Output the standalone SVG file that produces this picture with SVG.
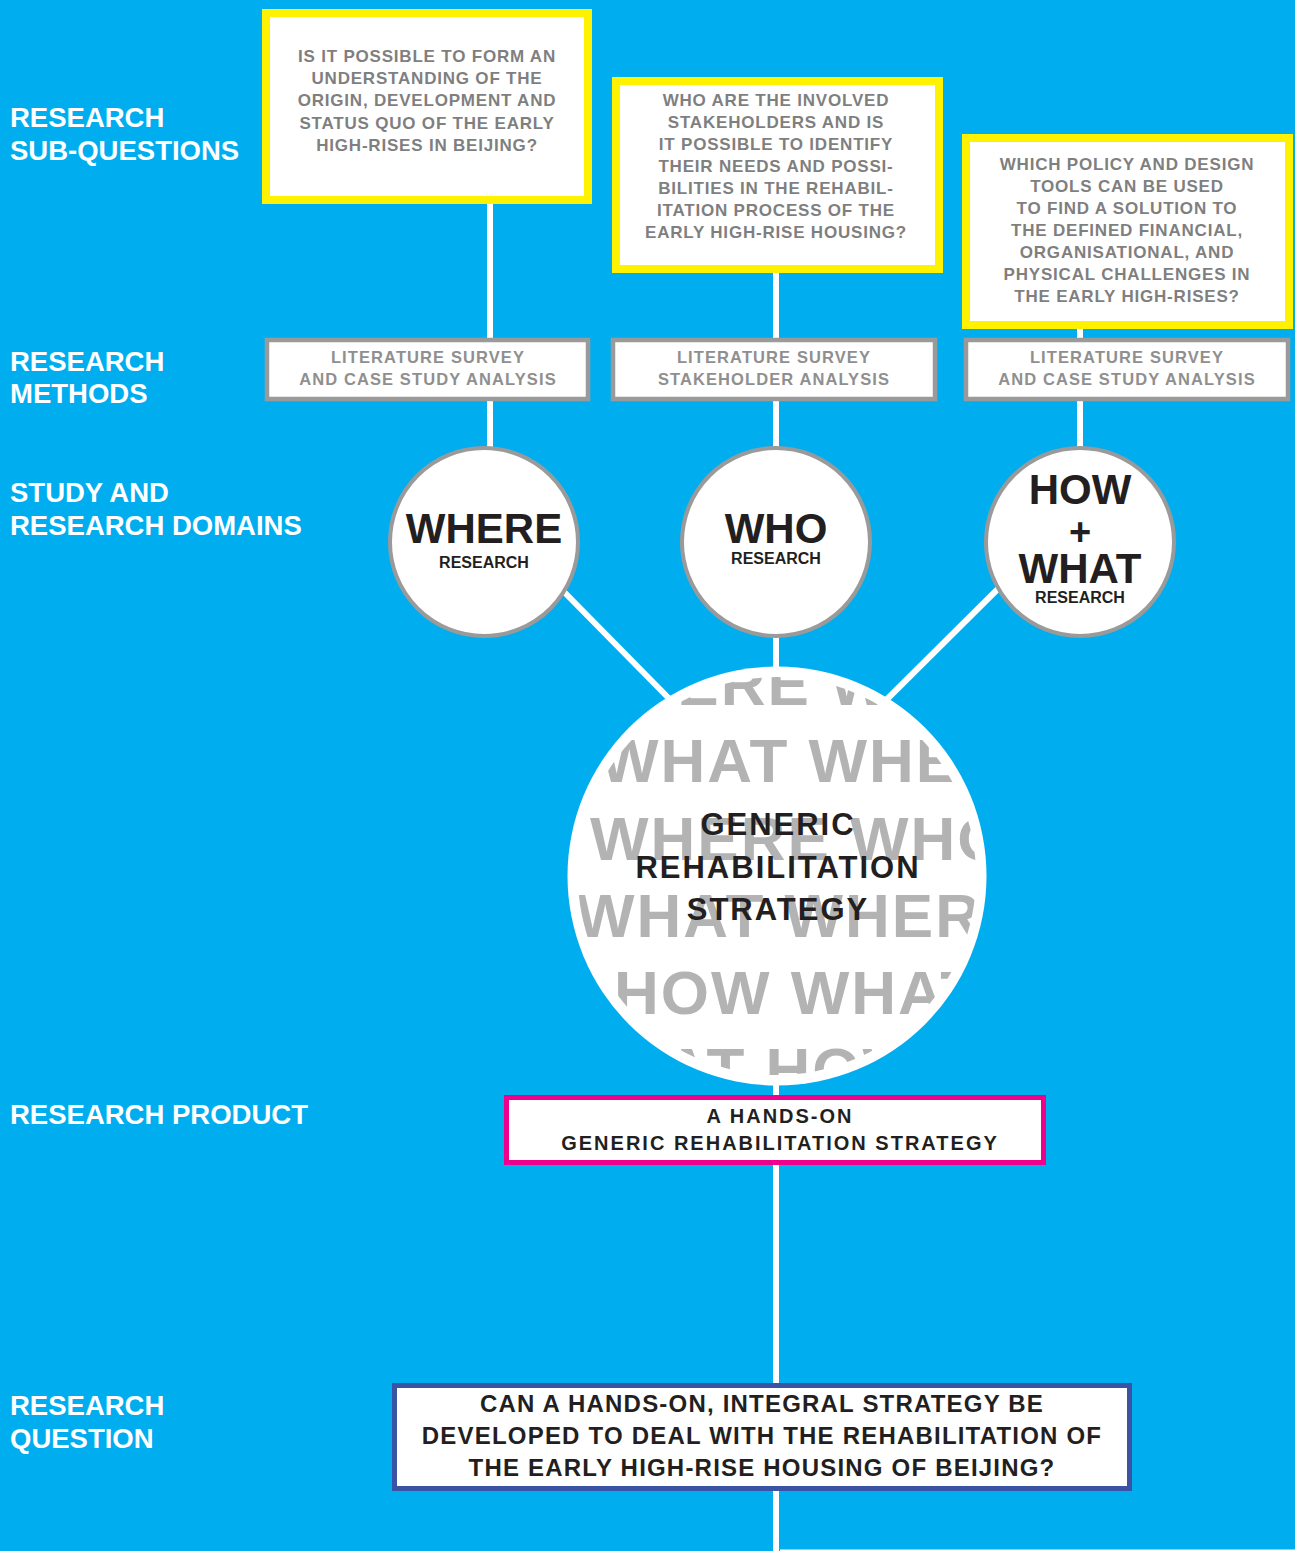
<svg xmlns="http://www.w3.org/2000/svg" width="1295" height="1551" viewBox="0 0 1295 1551">
<style>
text{font-family:"Liberation Sans",Arial,sans-serif;font-weight:bold}
.lbl{fill:#ffffff;font-size:27.5px}
.q{fill:#7f7f7f;font-size:17px;letter-spacing:0.8px;text-anchor:middle}
.m{fill:#8f8f8f;font-size:16.5px;letter-spacing:1.1px;text-anchor:middle}
.big{fill:#231f20;font-size:42px;text-anchor:middle}
.sm{fill:#231f20;font-size:16px;text-anchor:middle}
.bg{fill:#b3b3b3;font-size:62px;letter-spacing:2px}
.ybox{fill:#ffffff;stroke:#fff200;stroke-width:8}
.gbox{fill:#ffffff;stroke:#9a9a9a;stroke-width:4.5}
.circ{fill:#ffffff;stroke:#9a9a9a;stroke-width:4}
.conn{stroke:#ffffff;stroke-width:6;fill:none}
</style>
<defs>
<clipPath id="bigclip"><circle cx="777" cy="876" r="199"/></clipPath>
</defs>
<rect x="0" y="0" width="1295" height="1551" fill="#00aeef"/>

<g id="labels">
<text class="lbl" x="10" y="127">RESEARCH</text>
<text class="lbl" x="10" y="160">SUB-QUESTIONS</text>
<text class="lbl" x="10" y="371">RESEARCH</text>
<text class="lbl" x="10" y="403">METHODS</text>
<text class="lbl" x="10" y="502">STUDY AND</text>
<text class="lbl" x="10" y="535">RESEARCH DOMAINS</text>
<text class="lbl" x="10" y="1124">RESEARCH PRODUCT</text>
<text class="lbl" x="10" y="1415">RESEARCH</text>
<text class="lbl" x="10" y="1448">QUESTION</text>
</g>

<g id="connectors">
<line class="conn" x1="490" y1="200" x2="490" y2="450"/>
<line class="conn" x1="776" y1="270" x2="776" y2="450"/>
<line class="conn" x1="1080" y1="325" x2="1080" y2="450"/>
<line class="conn" x1="776" y1="630" x2="776" y2="1551"/>
<line class="conn" x1="540" y1="567.5" x2="705" y2="735"/>
<line class="conn" x1="1020" y1="567" x2="855" y2="731"/>
<rect x="780" y="1549.5" width="515" height="1.5" fill="#ffffff"/>
</g>

<g id="sq1">
<rect class="ybox" x="266" y="13" width="322" height="187"/>
<text class="q" x="427" y="62">IS IT POSSIBLE TO FORM AN</text>
<text class="q" x="427" y="84.2">UNDERSTANDING OF THE</text>
<text class="q" x="427" y="106.4">ORIGIN, DEVELOPMENT AND</text>
<text class="q" x="427" y="128.6">STATUS QUO OF THE EARLY</text>
<text class="q" x="427" y="150.8">HIGH-RISES IN BEIJING?</text>
</g>

<g id="sq2">
<rect class="ybox" x="616" y="81" width="323" height="188"/>
<text class="q" x="776" y="105.7">WHO ARE THE INVOLVED</text>
<text class="q" x="776" y="127.8">STAKEHOLDERS AND IS</text>
<text class="q" x="776" y="149.9">IT POSSIBLE TO IDENTIFY</text>
<text class="q" x="776" y="172">THEIR NEEDS AND POSSI-</text>
<text class="q" x="776" y="194.1">BILITIES IN THE REHABIL-</text>
<text class="q" x="776" y="216.2">ITATION PROCESS OF THE</text>
<text class="q" x="776" y="238.3">EARLY HIGH-RISE HOUSING?</text>
</g>

<g id="sq3">
<rect class="ybox" x="966" y="138" width="323" height="187"/>
<text class="q" x="1127" y="170">WHICH POLICY AND DESIGN</text>
<text class="q" x="1127" y="192">TOOLS CAN BE USED</text>
<text class="q" x="1127" y="214.1">TO FIND A SOLUTION TO</text>
<text class="q" x="1127" y="236.2">THE DEFINED FINANCIAL,</text>
<text class="q" x="1127" y="258.2">ORGANISATIONAL, AND</text>
<text class="q" x="1127" y="280.3">PHYSICAL CHALLENGES IN</text>
<text class="q" x="1127" y="302.3">THE EARLY HIGH-RISES?</text>
</g>

<g id="m1">
<rect class="gbox" x="267" y="340" width="321" height="59"/>
<text class="m" x="428" y="363.3">LITERATURE SURVEY</text>
<text class="m" x="428" y="385">AND CASE STUDY ANALYSIS</text>
</g>
<g id="m2">
<rect class="gbox" x="613" y="340" width="322" height="59"/>
<text class="m" x="774" y="363.3">LITERATURE SURVEY</text>
<text class="m" x="774" y="385">STAKEHOLDER ANALYSIS</text>
</g>
<g id="m3">
<rect class="gbox" x="966" y="340" width="322" height="59"/>
<text class="m" x="1127" y="363.3">LITERATURE SURVEY</text>
<text class="m" x="1127" y="385">AND CASE STUDY ANALYSIS</text>
</g>

<g id="where">
<circle class="circ" cx="484" cy="542" r="94"/>
<text class="big" x="484" y="543.3">WHERE</text>
<text class="sm" x="484" y="567.7">RESEARCH</text>
</g>
<g id="who">
<circle class="circ" cx="776" cy="542" r="94"/>
<text class="big" x="776" y="542.7">WHO</text>
<text class="sm" x="776" y="564">RESEARCH</text>
</g>
<g id="howwhat">
<circle class="circ" cx="1080" cy="542" r="94"/>
<text class="big" x="1080" y="504.3">HOW</text>
<text class="big" x="1080" y="545" style="font-size:38px">+</text>
<text class="big" x="1080" y="583.3">WHAT</text>
<text class="sm" x="1080" y="603.3">RESEARCH</text>
</g>

<g id="strategy">
<circle cx="777" cy="876" r="209.5" fill="#ffffff"/>
<g clip-path="url(#bigclip)">
<text class="bg" x="570" y="705">WHERE WHO</text>
<text class="bg" x="600" y="782">WHAT WHERE</text>
<text class="bg" x="590" y="860">WHERE WHO</text>
<text class="bg" x="576" y="937">WHAT WHERE</text>
<text class="bg" x="614" y="1014">HOW WHAT</text>
<text class="bg" x="557" y="1091">WHAT HOW</text>
</g>
<text x="778" y="835" style="fill:#231f20;font-size:31px;letter-spacing:2px;text-anchor:middle">GENERIC</text>
<text x="778" y="878.3" style="fill:#231f20;font-size:31px;letter-spacing:2px;text-anchor:middle">REHABILITATION</text>
<text x="778" y="920" style="fill:#231f20;font-size:31px;letter-spacing:2px;text-anchor:middle">STRATEGY</text>
</g>

<g id="product">
<rect x="506.5" y="1097.5" width="537" height="65" fill="#ffffff" stroke="#ec008c" stroke-width="5"/>
<text x="780" y="1122.7" style="fill:#231f20;font-size:20px;letter-spacing:2px;text-anchor:middle">A HANDS-ON</text>
<text x="780" y="1150" style="fill:#231f20;font-size:20px;letter-spacing:2px;text-anchor:middle">GENERIC REHABILITATION STRATEGY</text>
</g>

<g id="question">
<rect x="394.5" y="1385.5" width="735" height="103" fill="#ffffff" stroke="#3a53a4" stroke-width="5"/>
<text x="762" y="1412.3" style="fill:#231f20;font-size:24px;letter-spacing:1.2px;text-anchor:middle">CAN A HANDS-ON, INTEGRAL STRATEGY BE</text>
<text x="762" y="1444" style="fill:#231f20;font-size:24px;letter-spacing:1.2px;text-anchor:middle">DEVELOPED TO DEAL WITH THE REHABILITATION OF</text>
<text x="762" y="1476" style="fill:#231f20;font-size:24px;letter-spacing:1.2px;text-anchor:middle">THE EARLY HIGH-RISE HOUSING OF BEIJING?</text>
</g>
</svg>
